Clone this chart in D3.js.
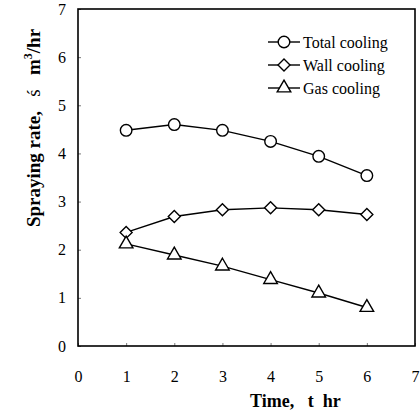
<!DOCTYPE html>
<html>
<head>
<meta charset="utf-8">
<script src="https://cdn.jsdelivr.net/npm/d3@7"></script>
<style>
  body { margin: 0; background: #fff; }
  svg text { font-family: "Liberation Serif", serif; }
</style>
</head>
<body>
<svg class="chart"></svg>
<script>
const times = [1, 2, 3, 4, 5, 6]
const totalCooling = [4.48, 4.6, 4.48, 4.25, 3.94, 3.54]
const wallCooling = [2.36, 2.69, 2.83, 2.87, 2.83, 2.73]
const gasCooling = [2.12, 1.89, 1.66, 1.38, 1.10, 0.80]
const xTicks = [0, 1, 2, 3, 4, 5, 6, 7]
const yTicks = [0, 1, 2, 3, 4, 5, 6, 7]
const seriesNames = ["Total cooling", "Wall cooling", "Gas cooling"]

const margin = {top: 9, right: 5, bottom: 68, left: 78}
let width = 420 - margin.left - margin.right,
    height = 414 - margin.top - margin.bottom;

let svg = d3.select(".chart")
    .attr("width", 420)
    .attr("height", 414)
    .attr("font-family", "Liberation Serif")
let chart = svg.append("g")
    .attr("transform", "translate(" + margin.left + "," + margin.top + ")");

let x = d3.scaleLinear().domain([0, 7]).range([0, width]);
let y = d3.scaleLinear().domain([0, 7]).range([height, 0]);

// small inward ticks
let xAxis = d3.axisBottom(x).tickValues(xTicks).tickSize(-3).tickPadding(25).tickFormat(d3.format("d"));
let yAxis = d3.axisLeft(y).tickValues(yTicks).tickSize(-3).tickPadding(12).tickFormat(d3.format("d"));

let gx = chart.append("g").attr("transform", "translate(0," + height + ")").call(xAxis);
let gy = chart.append("g").call(yAxis);
[gx, gy].forEach(g => {
  g.attr("font-family", "Liberation Serif").attr("font-size", 16);
  g.select(".domain").remove();
  g.selectAll("line").attr("stroke", "#555").attr("stroke-width", 0.8);
  g.selectAll("text").attr("fill", "#000");
});

// frame
chart.append("rect")
    .attr("x", 0).attr("y", 0)
    .attr("width", width).attr("height", height)
    .attr("fill", "none").attr("stroke", "#000").attr("stroke-width", 1.6);

const square45 = {
  draw(context, size) {
    const r = Math.sqrt(size / 2);
    context.moveTo(0, -r); context.lineTo(r, 0); context.lineTo(0, r); context.lineTo(-r, 0); context.closePath();
  }
}

const series = [
  {name: seriesNames[0], values: totalCooling, symbol: d3.symbolCircle, size: 105},
  {name: seriesNames[1], values: wallCooling, symbol: square45, size: 72},
  {name: seriesNames[2], values: gasCooling, symbol: d3.symbolTriangle, size: 80}
]

let line = d3.line()
    .x((d, i) => x(times[i]))
    .y(d => y(d));

series.forEach(s => {
  chart.append("path")
      .datum(s.values)
      .attr("d", line)
      .attr("fill", "none")
      .attr("stroke", "#000")
      .attr("stroke-width", 1.4);
  chart.selectAll(null)
      .data(s.values)
    .enter().append("path")
      .attr("transform", (d, i) => "translate(" + x(times[i]) + "," + y(d) + ")")
      .attr("d", d3.symbol().type(s.symbol).size(s.size))
      .attr("fill", "#fff")
      .attr("stroke", "#000")
      .attr("stroke-width", 1.4);
});

// legend
let legend = chart.selectAll(".legend")
    .data(series)
  .enter().append("g")
    .attr("transform", (d, i) => "translate(" + (268 - margin.left) + "," + (42 + i * 23 - margin.top) + ")");
legend.append("line")
    .attr("x1", 0).attr("x2", 32)
    .attr("stroke", "#000").attr("stroke-width", 1.4);
legend.append("path")
    .attr("transform", "translate(16,0)")
    .attr("d", d => d3.symbol().type(d.symbol).size(d.size)())
    .attr("fill", "#fff").attr("stroke", "#000").attr("stroke-width", 1.4);
legend.append("text")
    .attr("x", 35).attr("dy", "0.35em")
    .attr("font-size", 16)
    .text(d => d.name);

// axis titles
svg.append("text")
    .attr("x", 250).attr("y", 407)
    .attr("font-size", 18)
    .attr("font-weight", "bold")
    .text("Time,\u00a0\u00a0\u00a0t\u00a0\u00a0hr");

let yt = svg.append("text")
    .attr("transform", "translate(40,128) rotate(-90)")
    .attr("text-anchor", "middle")
    .attr("font-size", 19)
    .attr("font-weight", "bold");
yt.append("tspan").text("Spraying rate,\u00a0\u00a0\u00a0");
yt.append("tspan").attr("font-weight", "normal").text("ś");
yt.append("tspan").text("\u00a0\u00a0\u00a0m");
yt.append("tspan").attr("dy", "-8").attr("font-size", 12).text("3");
yt.append("tspan").attr("dy", "8").text("/hr");
</script>
</body>
</html>
